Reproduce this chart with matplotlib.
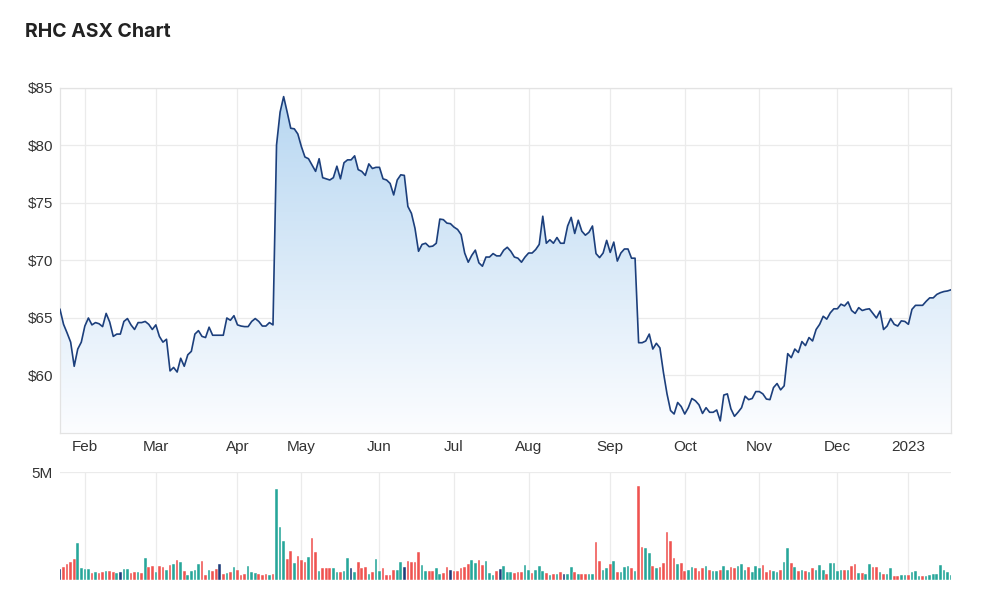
import numpy as np
import pandas as pd
import matplotlib
matplotlib.use("Agg")
import matplotlib.pyplot as plt
from matplotlib.colors import LinearSegmentedColormap
from matplotlib.patches import PathPatch

plt.rcParams['font.family'] = ['Liberation Sans', 'DejaVu Sans']

# trading days shown (ASX calendar)
start_day = '2022-01-20'
end_day = '2023-01-19'
asx_holidays = ['2022-01-26', '2022-04-15', '2022-04-18', '2022-04-25', '2022-06-13',
                '2022-09-22', '2022-12-26', '2022-12-27', '2023-01-02']

# closing price, one per trading day
close = [
    65.75, 64.45, 63.7, 62.9, 60.8, 62.3, 62.9, 64.3, 65.0, 64.4,
    64.6, 64.5, 64.25, 65.4, 64.65, 63.4, 63.6, 63.6, 64.7, 64.95,
    64.4, 64.0, 64.6, 64.6, 64.7, 64.45, 64.0, 64.4, 63.4, 62.9,
    63.15, 60.4, 60.7, 60.3, 61.5, 60.8, 61.8, 62.1, 63.6, 63.9,
    63.4, 63.3, 64.2, 63.5, 63.5, 63.5, 63.5, 65.0, 64.8, 65.2,
    64.4, 64.3, 64.25, 64.25, 64.7, 64.95, 64.7, 64.3, 64.3, 64.6,
    64.4, 80.05, 82.9, 84.25, 82.9, 81.5, 81.45, 81.0, 79.9, 79.0,
    78.85, 78.3, 77.75, 78.85, 77.2, 77.1, 77.0, 77.2, 78.2, 77.1,
    78.5, 78.75, 78.75, 79.1, 77.9, 77.75, 77.4, 78.4, 78.0, 78.1,
    78.1, 77.1, 77.0, 76.7, 75.7, 77.0, 77.45, 77.4, 74.7, 74.1,
    72.8, 70.8, 71.4, 71.5, 71.2, 71.25, 71.5, 73.6, 73.55, 73.25,
    73.2, 72.9, 72.7, 72.25, 70.65, 69.85, 70.45, 70.9, 69.8, 69.5,
    70.3, 70.3, 70.6, 70.4, 70.4, 70.9, 71.15, 70.8, 70.3, 70.2,
    69.85, 70.3, 70.65, 70.65, 70.95, 71.4, 73.85, 71.5, 71.8, 71.5,
    72.0, 71.5, 71.5, 73.0, 73.75, 72.35, 73.5, 72.55, 72.2, 72.45,
    73.0, 70.6, 70.25, 70.65, 71.75, 70.7, 71.6, 69.95, 70.65, 71.0,
    71.0, 70.2, 70.2, 62.85, 62.85, 63.0, 63.6, 62.3, 62.8, 62.4,
    60.25, 58.4, 56.95, 56.65, 57.65, 57.3, 56.65, 57.2, 58.0, 57.8,
    57.45, 56.7, 57.2, 56.8, 56.8, 57.0, 56.05, 58.3, 58.4, 57.1,
    56.45, 56.8, 57.2, 58.2, 57.9, 58.0, 58.6, 58.6, 58.4, 57.95,
    57.9, 58.95, 59.3, 58.75, 59.1, 61.9, 61.55, 62.3, 62.0, 62.95,
    62.6, 63.3, 63.0, 64.0, 64.45, 65.15, 64.9, 65.45, 65.8, 65.8,
    66.2, 66.05, 66.4, 65.65, 65.4, 65.9, 65.65, 65.75, 65.8, 65.4,
    65.0, 65.6, 64.0, 64.3, 64.95, 64.45, 64.3, 64.75, 64.7, 64.45,
    65.75, 66.1, 66.1, 66.1, 66.45, 66.75, 66.75, 67.05, 67.2, 67.3,
    67.35, 67.45,
]

# volume in millions
volume = [
    0.50, 0.59, 0.73, 0.82, 0.98, 1.73, 0.54, 0.50, 0.50, 0.33,
    0.37, 0.33, 0.37, 0.42, 0.42, 0.37, 0.33, 0.37, 0.50, 0.50,
    0.33, 0.37, 0.37, 0.31, 1.02, 0.59, 0.65, 0.37, 0.63, 0.59,
    0.46, 0.70, 0.73, 0.93, 0.82, 0.43, 0.23, 0.43, 0.48, 0.73,
    0.88, 0.22, 0.48, 0.43, 0.53, 0.74, 0.28, 0.33, 0.37, 0.59,
    0.48, 0.23, 0.28, 0.63, 0.37, 0.33, 0.28, 0.23, 0.28, 0.22,
    0.28, 4.20, 2.45, 1.80, 0.99, 1.35, 0.77, 1.13, 0.93, 0.82,
    1.08, 1.94, 1.28, 0.43, 0.54, 0.54, 0.54, 0.54, 0.37, 0.37,
    0.43, 1.04, 0.54, 0.37, 0.82, 0.54, 0.59, 0.28, 0.37, 0.99,
    0.43, 0.54, 0.23, 0.23, 0.48, 0.48, 0.82, 0.59, 0.88, 0.82,
    0.82, 1.28, 0.68, 0.43, 0.43, 0.43, 0.54, 0.28, 0.33, 0.59,
    0.48, 0.43, 0.43, 0.54, 0.59, 0.74, 0.93, 0.77, 0.93, 0.68,
    0.88, 0.33, 0.22, 0.43, 0.50, 0.63, 0.37, 0.37, 0.33, 0.37,
    0.37, 0.68, 0.48, 0.33, 0.48, 0.63, 0.43, 0.33, 0.22, 0.28,
    0.28, 0.37, 0.28, 0.28, 0.59, 0.37, 0.28, 0.28, 0.28, 0.28,
    0.28, 1.78, 0.88, 0.48, 0.54, 0.73, 0.88, 0.37, 0.37, 0.59,
    0.63, 0.54, 0.43, 4.35, 1.53, 1.49, 1.24, 0.63, 0.54, 0.59,
    0.77, 2.20, 1.80, 1.04, 0.73, 0.77, 0.43, 0.48, 0.59, 0.54,
    0.43, 0.54, 0.63, 0.48, 0.43, 0.43, 0.48, 0.63, 0.48, 0.59,
    0.54, 0.63, 0.73, 0.48, 0.59, 0.37, 0.63, 0.54, 0.68, 0.37,
    0.48, 0.43, 0.37, 0.48, 0.82, 1.49, 0.77, 0.59, 0.43, 0.48,
    0.43, 0.37, 0.54, 0.48, 0.68, 0.48, 0.28, 0.77, 0.77, 0.43,
    0.48, 0.48, 0.48, 0.63, 0.73, 0.33, 0.33, 0.28, 0.73, 0.59,
    0.59, 0.37, 0.28, 0.28, 0.54, 0.17, 0.17, 0.22, 0.22, 0.22,
    0.37, 0.43, 0.17, 0.17, 0.17, 0.22, 0.28, 0.28, 0.68, 0.48,
    0.37, 0.22,
]

# day direction: u = up, d = down, n = unchanged
dir_codes = (
    ['n', 'd', 'd', 'd', 'd', 'u', 'u', 'u', 'u', 'd', 'u', 'd', 'd', 'u', 'd', 'd', 'u', 'n', 'u', 'u',
     'd', 'd', 'u', 'd', 'u', 'd', 'd', 'u', 'd', 'd', 'u', 'd', 'u', 'd', 'u', 'd', 'u', 'u', 'u', 'u',
     'd', 'd', 'u', 'd', 'd', 'n', 'd', 'u', 'd', 'u', 'd', 'd', 'd', 'u', 'u', 'u', 'd', 'd', 'd', 'u',
     'd', 'u', 'u', 'u', 'd', 'd', 'u', 'd', 'd', 'd', 'u', 'd', 'd', 'u', 'd', 'd', 'd', 'u', 'u', 'd',
     'u', 'u', 'n', 'u', 'd', 'd', 'd', 'u', 'd', 'u', 'u', 'd', 'd', 'd', 'd', 'u', 'u', 'n', 'd', 'd',
     'd', 'd', 'u', 'u', 'd', 'd', 'u', 'u', 'd', 'd', 'n', 'd', 'd', 'd', 'd', 'd', 'u', 'u', 'd', 'd',
     'u', 'u', 'u', 'd', 'n', 'u', 'u', 'u', 'd', 'd', 'd', 'u', 'u', 'd', 'u', 'u', 'u', 'd', 'u', 'd',
     'u', 'd', 'n', 'u', 'u', 'd', 'u', 'd', 'd', 'u', 'u', 'd', 'd', 'u', 'u', 'd', 'u', 'd', 'u', 'u',
     'u', 'd', 'u', 'd', 'd', 'u', 'u', 'd', 'u', 'd', 'd', 'd', 'd', 'd', 'u', 'd', 'd', 'u', 'u', 'd',
     'd', 'd', 'u', 'd', 'u', 'u', 'd', 'u', 'u', 'd', 'd', 'u', 'u', 'u', 'd', 'u', 'u', 'u', 'd', 'd',
     'd', 'u', 'u', 'd', 'u', 'u', 'd', 'u', 'd', 'u', 'd', 'u', 'd', 'u', 'u', 'u', 'd', 'u', 'u', 'u',
     'u', 'd', 'u', 'd', 'd', 'u', 'd', 'u', 'u', 'd', 'd', 'u', 'd', 'u', 'u', 'd', 'd', 'u', 'u', 'd',
     'u', 'u', 'u', 'd', 'u', 'u', 'u', 'u', 'u', 'u', 'u', 'u'])

dir_colors = {'u': '#26a69a', 'd': '#ef5350', 'n': '#1f3d7a'}

dates = pd.bdate_range(start_day, end_day, freq='C', holidays=asx_holidays)
x = np.arange(len(dates))
month_starts = [i for i in range(1, len(dates)) if dates[i].month != dates[i - 1].month]
month_labels = [str(dates[i].year) if dates[i].month == 1 else dates[i].strftime('%b') for i in month_starts]

fig = plt.figure(figsize=(10, 6.06), dpi=100)
fig.text(0.025, 0.948, 'RHC ASX Chart', fontsize=14, fontweight='bold', color='#222222',
         va='center', family=['Inter', 'DejaVu Sans'])

grid_c = '#ebebeb'
tick_c = '#333333'

# price panel
ax = fig.add_axes([0.06, 0.2855, 0.891, 0.5693])
ax.set_xlim(0, len(x) - 1)
ax.set_ylim(55, 85)

poly = ax.fill_between(x, close, 55, color='none', lw=0)
cmap = LinearSegmentedColormap.from_list('fade', ['#fcfdff', '#b6d6f1'])
grad = np.linspace(0, 1, 256).reshape(-1, 1)
im = ax.imshow(grad, extent=[0, len(x) - 1, 55, 85], origin='lower', aspect='auto',
               cmap=cmap, zorder=1)
clip = PathPatch(poly.get_paths()[0], transform=ax.transData, facecolor='none', edgecolor='none')
ax.add_patch(clip)
im.set_clip_path(clip)
ax.plot(x, close, color='#1c3f7c', lw=1.2, zorder=3)

ax.set_yticks([60, 65, 70, 75, 80, 85])
ax.set_yticklabels(['$%d' % v for v in [60, 65, 70, 75, 80, 85]])
ax.set_xticks(month_starts)
ax.set_xticklabels(month_labels)
ax.grid(True, color=grid_c, lw=0.9, zorder=0)
ax.set_axisbelow(True)
ax.tick_params(length=0, labelsize=11, colors=tick_c, pad=5)
for s in ax.spines.values():
    s.set_color('#e3e3e3')
    s.set_linewidth(0.9)

# volume panel
vax = fig.add_axes([0.06, 0.0429, 0.891, 0.1782])
vax.set_xlim(0, len(x) - 1)
vax.set_ylim(0, 5)
vax.bar(x, volume, width=0.75, color=[dir_colors[c] for c in dir_codes],
        edgecolor='white', linewidth=0.3, zorder=2)
vax.set_yticks([5])
vax.set_yticklabels(['5M'])
vax.set_xticks(month_starts)
vax.set_xticklabels([])
vax.grid(True, color=grid_c, lw=0.9, zorder=0)
vax.set_axisbelow(True)
vax.tick_params(length=0, labelsize=11, colors=tick_c, pad=5)
for s in vax.spines.values():
    s.set_visible(False)

fig.savefig('out.png', dpi=100)
